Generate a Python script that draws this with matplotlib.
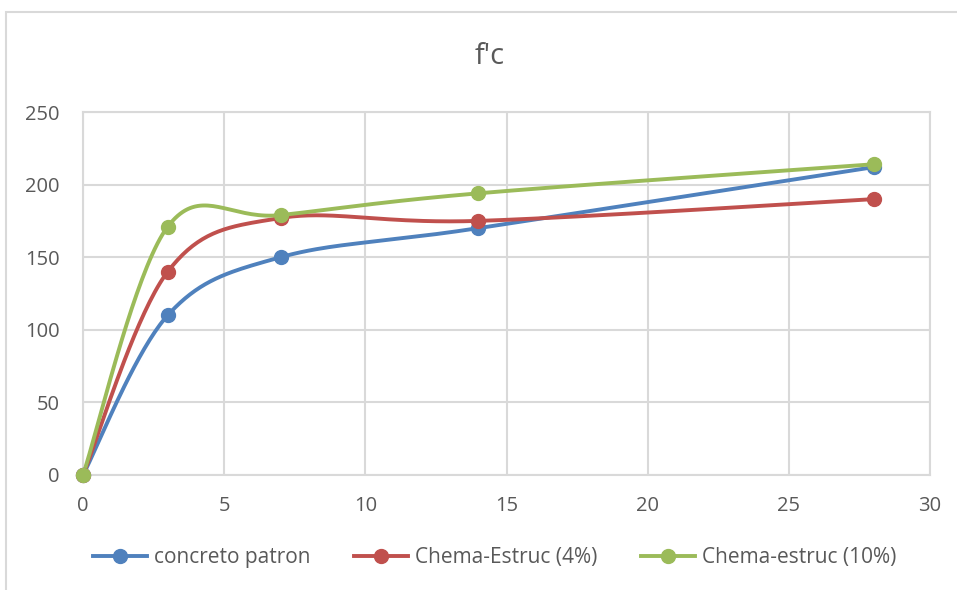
import matplotlib
matplotlib.use("Agg")
import matplotlib.pyplot as plt
import numpy as np
from matplotlib.patches import Rectangle
from matplotlib.lines import Line2D

# Edad de ensayo (dias) y resistencia f'c
dias = [0, 3, 7, 14, 28]
patron = [0, 110, 150, 170, 212]
estruc_4 = [0, 140, 177, 175, 190]
estruc_10 = [0, 171, 179, 194, 214]

series = [
    ("concreto patron", patron, "#4F81BD"),
    ("Chema-Estruc (4%)", estruc_4, "#C0504D"),
    ("Chema-estruc (10%)", estruc_10, "#9BBB59"),
]

GRIS = "#D9D9D9"
TEXTO = "#595959"
FUENTE = ["Open Sans", "DejaVu Sans"]


def suavizar(x, y, n=40):
    # Curva suave tipo Excel: Bezier cubica con tangentes Catmull-Rom
    p = np.column_stack([x, y]).astype(float)
    ext = np.vstack([p[0], p, p[-1]])
    t = np.linspace(0, 1, n)[:, None]
    trozos = []
    for i in range(len(p) - 1):
        p0, p3 = ext[i + 1], ext[i + 2]
        c1 = p0 + (ext[i + 2] - ext[i]) / 6
        c2 = p3 - (ext[i + 3] - ext[i + 1]) / 6
        b = ((1 - t) ** 3) * p0 + 3 * ((1 - t) ** 2) * t * c1 \
            + 3 * (1 - t) * t ** 2 * c2 + t ** 3 * p3
        trozos.append(b if i == 0 else b[1:])
    curva = np.vstack(trozos)
    return curva[:, 0], curva[:, 1]


fig = plt.figure(figsize=(9.57, 5.9), dpi=100)
ax = fig.add_axes([83 / 957, 1 - 475 / 590, (930 - 83) / 957, (475 - 112) / 590])

for nombre, valores, color in series:
    xs, ys = suavizar(dias, valores)
    ax.plot(xs, ys, color=color, lw=2.8, solid_capstyle="round", zorder=3,
            clip_on=False)
    ax.plot(dias, valores, "o", color=color, ms=10, zorder=4, clip_on=False)

ax.set_xlim(0, 30)
ax.set_ylim(0, 250)
ax.set_xticks(range(0, 31, 5))
ax.set_yticks(range(0, 251, 50))
ax.grid(True, color=GRIS, lw=1.5)
ax.set_axisbelow(True)
for s in ax.spines.values():
    s.set_color(GRIS)
    s.set_linewidth(1.5)
ax.tick_params(length=0, labelsize=14.5, labelcolor=TEXTO)
ax.tick_params(axis="y", pad=17)
ax.tick_params(axis="x", pad=15)
for lbl in ax.get_xticklabels() + ax.get_yticklabels():
    lbl.set_family(FUENTE)

fig.text(0.512, 1 - 57 / 590, "f'c", ha="center", va="center",
         fontsize=21, color=TEXTO, family=FUENTE)

handles = [Line2D([], [], color=c, lw=2.8, marker="o", ms=10)
           for _, _, c in series]
fig.legend(handles, [n for n, _, _ in series], loc="center",
           bbox_to_anchor=(0.517, 1 - 558 / 590), ncol=3, frameon=False,
           handlelength=2.6, columnspacing=2.1, handletextpad=0.33,
           prop={"family": FUENTE, "size": 15}, labelcolor=TEXTO)

# Marco del area del grafico
fig.add_artist(Rectangle((6 / 957, -0.1), 1.2, 1.1 - 12 / 590,
                         transform=fig.transFigure, fill=False,
                         edgecolor=GRIS, lw=1.5))

fig.savefig("out.png", dpi=100)
